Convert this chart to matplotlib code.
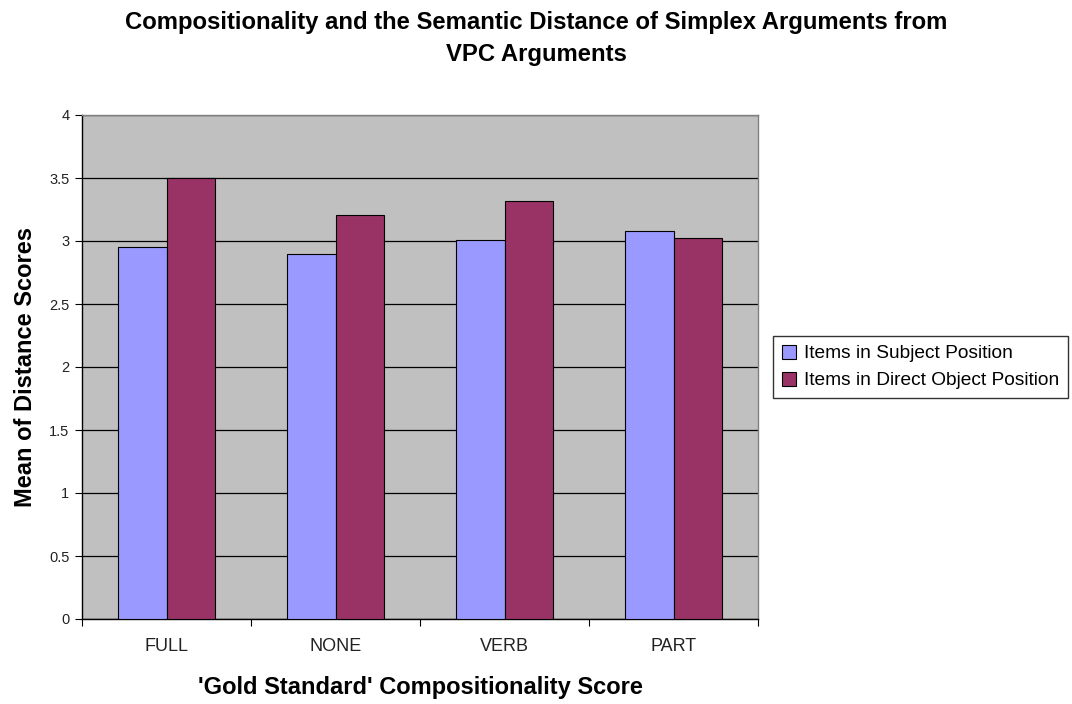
import numpy as np
import matplotlib.pyplot as plt
from matplotlib.ticker import FixedLocator, NullFormatter

plt.rcParams['font.family'] = ['Liberation Sans', 'DejaVu Sans']

# Mean distance scores per gold-standard compositionality class
categories = ['FULL', 'NONE', 'VERB', 'PART']
subject_scores = [2.95, 2.90, 3.01, 3.08]
object_scores = [3.50, 3.21, 3.32, 3.02]
y_ticks = [0, 0.5, 1, 1.5, 2, 2.5, 3, 3.5, 4]

fig = plt.figure(figsize=(10.72, 7.04), dpi=100)
ax = fig.add_axes([82 / 1072, 1 - 619 / 704, 676 / 1072, 504 / 704])
ax.set_facecolor('#C0C0C0')

x = np.arange(len(categories))
w = 1 / 3.5  # gap width 150%
ax.bar(x - w / 2, subject_scores, w, color='#9999FF', edgecolor='black',
       linewidth=0.8, label='Items in Subject Position', zorder=3)
ax.bar(x + w / 2, object_scores, w, color='#993366', edgecolor='black',
       linewidth=0.8, label='Items in Direct Object Position', zorder=3)

ax.set_xlim(-0.5, len(categories) - 0.5)
ax.set_ylim(0, 4)
ax.set_yticks(y_ticks)
ax.set_yticklabels([f'{v:g}' for v in y_ticks])
ax.grid(axis='y', color='black', linewidth=0.9, zorder=1)

# category ticks sit between groups, labels centred under each group
ax.xaxis.set_major_locator(FixedLocator(np.arange(-0.5, len(categories))))
ax.xaxis.set_major_formatter(NullFormatter())
ax.xaxis.set_minor_locator(FixedLocator(x))
ax.set_xticklabels(categories, minor=True)
ax.tick_params(axis='x', which='minor', length=0, pad=14, labelsize=13,
               labelcolor='#222222')
ax.tick_params(axis='x', which='major', length=5, direction='out')
ax.tick_params(axis='y', length=5, direction='out', labelsize=10.5, pad=4,
               labelcolor='#222222')

for s in ['left', 'bottom']:
    ax.spines[s].set_color('black')
    ax.spines[s].set_linewidth(1)
for s in ['top', 'right']:
    ax.spines[s].set_color('#808080')
    ax.spines[s].set_linewidth(1)

ax.set_ylabel('Mean of Distance Scores', fontsize=17, fontweight='bold', labelpad=9)
ax.set_xlabel("'Gold Standard' Compositionality Score", fontsize=17,
              fontweight='bold', labelpad=15)

fig.suptitle('Compositionality and the Semantic Distance of Simplex Arguments from\nVPC Arguments',
             fontsize=17.2, fontweight='bold', y=0.985, linespacing=1.5)

leg = ax.legend(loc='center left', bbox_to_anchor=(773 / 1072, 1 - 367 / 704),
                bbox_transform=fig.transFigure, frameon=True, fancybox=False,
                edgecolor='black', fontsize=13.8, handlelength=0.75, handleheight=0.75,
                handletextpad=0.4, borderpad=0.45, labelspacing=0.5,
                borderaxespad=0)
leg.get_frame().set_linewidth(1)

fig.savefig('out.png', dpi=100, facecolor='white')
